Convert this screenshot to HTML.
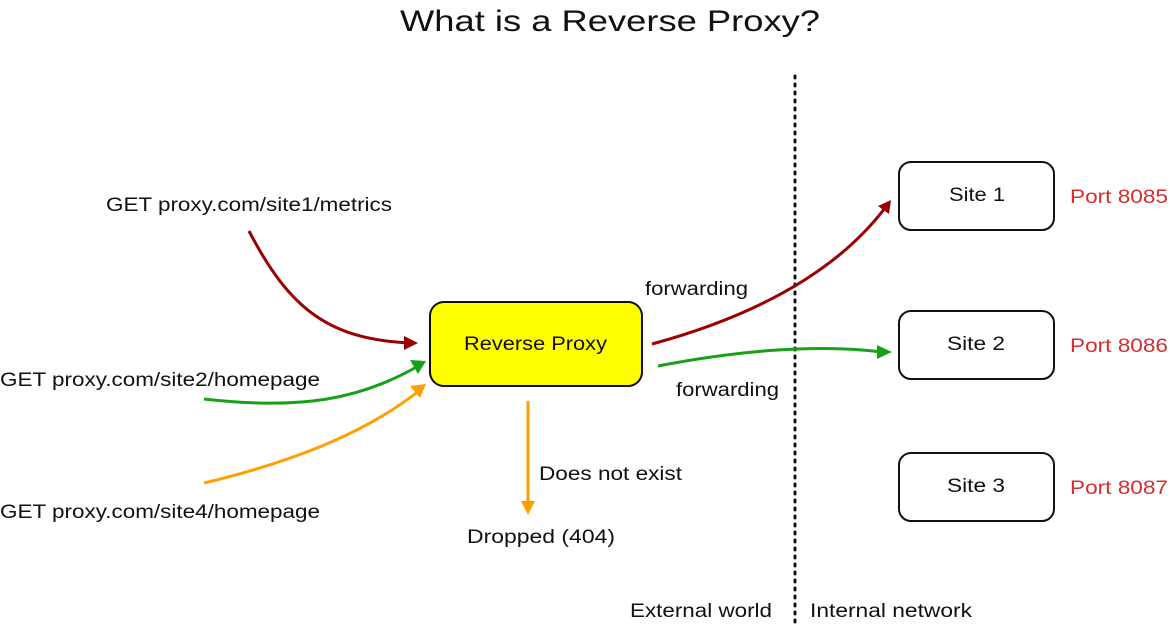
<!DOCTYPE html>
<html><head><meta charset="utf-8"><style>
body{margin:0;width:1170px;height:625px;background:#fff;overflow:hidden}
svg{display:block}
text{font-family:"Liberation Sans",sans-serif;fill:#111}
</style></head><body>
<svg width="1170" height="625" viewBox="0 0 1170 625">
<text x="400" y="31" font-size="30" textLength="420" lengthAdjust="spacingAndGlyphs">What is a Reverse Proxy?</text>
<line x1="795" y1="76" x2="795" y2="622" stroke="#111" stroke-width="3" stroke-dasharray="2,6" stroke-linecap="round"/>
<rect x="430" y="302" width="212" height="84" rx="14" fill="#ffff00" stroke="#111" stroke-width="2"/>
<text x="464" y="350" font-size="19" textLength="143" lengthAdjust="spacingAndGlyphs">Reverse Proxy</text>
<rect x="899" y="162" width="155" height="68" rx="12" fill="#fff" stroke="#111" stroke-width="2"/>
<text x="949" y="201" font-size="19" textLength="56" lengthAdjust="spacingAndGlyphs">Site 1</text>
<rect x="899" y="311" width="155" height="68" rx="12" fill="#fff" stroke="#111" stroke-width="2"/>
<text x="947" y="350" font-size="19" textLength="58" lengthAdjust="spacingAndGlyphs">Site 2</text>
<rect x="899" y="453" width="155" height="68" rx="12" fill="#fff" stroke="#111" stroke-width="2"/>
<text x="947" y="492" font-size="19" textLength="58" lengthAdjust="spacingAndGlyphs">Site 3</text>
<text x="1070" y="203" font-size="19" style="fill:#d32f2f" textLength="98" lengthAdjust="spacingAndGlyphs">Port 8085</text>
<text x="1070" y="352" font-size="19" style="fill:#d32f2f" textLength="98" lengthAdjust="spacingAndGlyphs">Port 8086</text>
<text x="1070" y="494" font-size="19" style="fill:#d32f2f" textLength="98" lengthAdjust="spacingAndGlyphs">Port 8087</text>
<text x="106" y="211" font-size="19" textLength="286" lengthAdjust="spacingAndGlyphs">GET proxy.com/site1/metrics</text>
<text x="0" y="386" font-size="19" textLength="320" lengthAdjust="spacingAndGlyphs">GET proxy.com/site2/homepage</text>
<text x="0" y="518" font-size="19" textLength="320" lengthAdjust="spacingAndGlyphs">GET proxy.com/site4/homepage</text>
<path d="M249,231 C290,310 330,340 412,343" fill="none" stroke="#9b0000" stroke-width="3"/>
<path d="M404,336 L418,343 L404,350 Z" fill="#9b0000"/>
<path d="M204,399 C300,410 360,400 420,365" fill="none" stroke="#18a018" stroke-width="3"/>
<path d="M410,360 L426,361 L418,374 Z" fill="#18a018"/>
<path d="M204,483 C300,460 370,430 420,390" fill="none" stroke="#ff9f00" stroke-width="3"/>
<path d="M410,386 L426,384 L420,398 Z" fill="#ff9f00"/>
<line x1="528" y1="401" x2="528" y2="505" stroke="#ff9f00" stroke-width="3"/>
<path d="M521,501 L528,515 L535,501 Z" fill="#ff9f00"/>
<text x="539" y="480" font-size="19" textLength="143" lengthAdjust="spacingAndGlyphs">Does not exist</text>
<text x="467" y="543" font-size="19" textLength="148" lengthAdjust="spacingAndGlyphs">Dropped (404)</text>
<path d="M652,344 C740,320 830,280 885,208" fill="none" stroke="#9b0000" stroke-width="3"/>
<path d="M878,206 L891,200 L889,214 Z" fill="#9b0000"/>
<path d="M658,366 C740,350 820,344 882,352" fill="none" stroke="#18a018" stroke-width="3"/>
<path d="M877,345 L892,352 L877,359 Z" fill="#18a018"/>
<text x="645" y="295" font-size="19" textLength="103" lengthAdjust="spacingAndGlyphs">forwarding</text>
<text x="676" y="396" font-size="19" textLength="103" lengthAdjust="spacingAndGlyphs">forwarding</text>
<text x="630" y="617" font-size="19" textLength="142" lengthAdjust="spacingAndGlyphs">External world</text>
<text x="810" y="617" font-size="19" textLength="162" lengthAdjust="spacingAndGlyphs">Internal network</text>
</svg>
</body></html>
